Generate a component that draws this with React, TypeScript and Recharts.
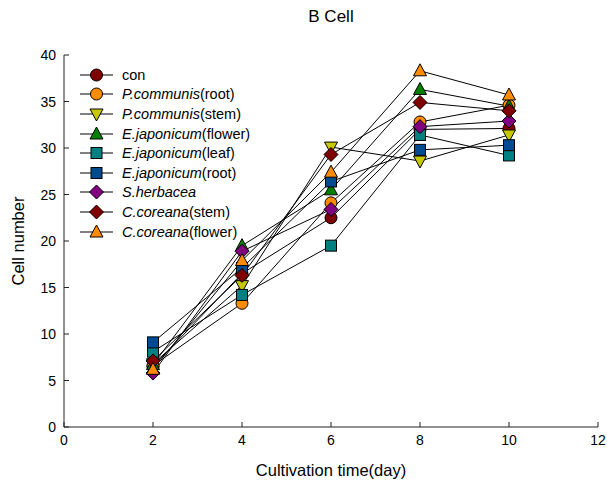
import React from 'react';
import { LineChart, Line, XAxis, YAxis } from 'recharts';

document.body.style.margin = '0';

const FONT = '"Liberation Sans", Arial, sans-serif';

const days = [2, 4, 6, 8, 10];
const xTicks = [0, 2, 4, 6, 8, 10, 12];
const yTicks = [0, 5, 10, 15, 20, 25, 30, 35, 40];

const con = [6.5, 16.5, 22.5, 32.0, 32.1];
const pcRoot = [6.6, 13.3, 24.1, 32.8, 34.6];
const pcStem = [6.8, 15.2, 30.1, 28.6, 31.4];
const ejFlower = [6.7, 19.5, 25.5, 36.3, 34.5];
const ejLeaf = [8.1, 14.2, 19.5, 31.4, 29.2];
const ejRoot = [9.1, 17.1, 26.4, 29.8, 30.3];
const sHerbacea = [5.8, 18.9, 23.4, 32.3, 32.9];
const ccStem = [7.1, 16.3, 29.3, 34.9, 34.0];
const ccFlower = [6.2, 17.9, 27.4, 38.3, 35.7];

type Shape = 'circle' | 'square' | 'triUp' | 'triDown' | 'diamond';

const series: { key: string; italic: string; plain: string; values: number[]; shape: Shape; fill: string }[] = [
  { key: 'con', italic: '', plain: 'con', values: con, shape: 'circle', fill: '#800000' },
  { key: 'pcRoot', italic: 'P.communis', plain: '(root)', values: pcRoot, shape: 'circle', fill: '#FF8C00' },
  { key: 'pcStem', italic: 'P.communis', plain: '(stem)', values: pcStem, shape: 'triDown', fill: '#C8C800' },
  { key: 'ejFlower', italic: 'E.japonicum', plain: '(flower)', values: ejFlower, shape: 'triUp', fill: '#008000' },
  { key: 'ejLeaf', italic: 'E.japonicum', plain: '(leaf)', values: ejLeaf, shape: 'square', fill: '#008080' },
  { key: 'ejRoot', italic: 'E.japonicum', plain: '(root)', values: ejRoot, shape: 'square', fill: '#004A8F' },
  { key: 'sHerbacea', italic: 'S.herbacea', plain: '', values: sHerbacea, shape: 'diamond', fill: '#800080' },
  { key: 'ccStem', italic: 'C.coreana', plain: '(stem)', values: ccStem, shape: 'diamond', fill: '#800000' },
  { key: 'ccFlower', italic: 'C.coreana', plain: '(flower)', values: ccFlower, shape: 'triUp', fill: '#FF8C00' },
];

const data = days.map((d, i) => {
  const row: Record<string, number> = { day: d };
  series.forEach((s) => {
    row[s.key] = s.values[i];
  });
  return row;
});

function Marker({ shape, fill, cx, cy }: { shape: Shape; fill: string; cx: number; cy: number }) {
  const common = { fill, stroke: '#000', strokeWidth: 1 };
  switch (shape) {
    case 'circle':
      return <circle cx={cx} cy={cy} r={6} {...common} />;
    case 'square':
      return <rect x={cx - 5.5} y={cy - 5.5} width={11} height={11} {...common} />;
    case 'triUp':
      return <polygon points={`${cx},${cy - 7} ${cx + 6.5},${cy + 5} ${cx - 6.5},${cy + 5}`} {...common} />;
    case 'triDown':
      return <polygon points={`${cx},${cy + 7} ${cx + 6.5},${cy - 5} ${cx - 6.5},${cy - 5}`} {...common} />;
    default:
      return <polygon points={`${cx},${cy - 7} ${cx + 7},${cy} ${cx},${cy + 7} ${cx - 7},${cy}`} {...common} />;
  }
}

const BottomTick = ({ x, y, payload }: any) => (
  <g>
    <line x1={x} x2={x} y1={y} y2={y - 5} stroke="#222" />
    <text x={x} y={y + 18} textAnchor="middle" fontSize={14} fontFamily={FONT} fill="#000">
      {payload.value}
    </text>
  </g>
);

const TopTick = ({ x, y }: any) => <line x1={x} x2={x} y1={y} y2={y + 5} stroke="#222" />;

const LeftTick = ({ x, y, payload }: any) => (
  <g>
    <line x1={x} x2={x + 5} y1={y} y2={y} stroke="#222" />
    <text x={x - 8} y={y + 5} textAnchor="end" fontSize={14} fontFamily={FONT} fill="#000">
      {payload.value}
    </text>
  </g>
);

const RightTick = ({ x, y }: any) => <line x1={x} x2={x - 5} y1={y} y2={y} stroke="#222" />;

export default function App() {
  return (
    <div style={{ position: 'relative', width: 607, height: 484, background: '#fff', fontFamily: FONT }}>
      <div style={{ position: 'absolute', top: 7, left: 64, width: 534, textAlign: 'center', fontSize: 17 }}>B Cell</div>
      <LineChart width={607} height={484} data={data} margin={{ top: 55, right: 9, bottom: 0, left: 10 }}>
        <XAxis
          dataKey="day"
          type="number"
          domain={[0, 12]}
          ticks={xTicks}
          height={57}
          tickSize={0}
          tickMargin={0}
          tick={<BottomTick />}
          axisLine={{ stroke: '#222' }}
          tickLine={false}
          label={{ value: 'Cultivation time(day)', position: 'insideBottom', offset: 8, fontSize: 16.5, fill: '#000', fontFamily: FONT }}
        />
        <XAxis
          xAxisId="top"
          orientation="top"
          type="number"
          domain={[0, 12]}
          ticks={xTicks}
          height={0}
          tickSize={0}
          tickMargin={0}
          tick={<TopTick />}
          axisLine={{ stroke: '#222' }}
          tickLine={false}
        />
        <YAxis
          type="number"
          domain={[0, 40]}
          ticks={yTicks}
          width={54}
          tickSize={0}
          tickMargin={0}
          tick={<LeftTick />}
          axisLine={{ stroke: '#222' }}
          tickLine={false}
          label={{
            value: 'Cell number',
            angle: -90,
            position: 'insideLeft',
            offset: 8,
            fontSize: 16.5,
            fill: '#000',
            fontFamily: FONT,
            style: { textAnchor: 'middle' },
          }}
        />
        <YAxis
          yAxisId="right"
          orientation="right"
          type="number"
          domain={[0, 40]}
          ticks={yTicks}
          width={0}
          tickSize={0}
          tickMargin={0}
          tick={<RightTick />}
          axisLine={{ stroke: '#222' }}
          tickLine={false}
        />
        {series.map((s) => (
          <Line
            key={s.key}
            dataKey={s.key}
            stroke="#000"
            strokeWidth={1}
            isAnimationActive={false}
            activeDot={false}
            dot={(p: any) => <Marker key={`${s.key}-${p.index}`} shape={s.shape} fill={s.fill} cx={p.cx} cy={p.cy} />}
          />
        ))}
      </LineChart>
      <div style={{ position: 'absolute', left: 80, top: 65, fontSize: 14.5 }}>
        {series.map((s) => (
          <div key={s.key} style={{ display: 'flex', alignItems: 'center', height: 19.6 }}>
            <svg width={36} height={18} style={{ display: 'block' }}>
              <line x1={0} x2={33} y1={9} y2={9} stroke="#000" strokeWidth={1} />
              <Marker shape={s.shape} fill={s.fill} cx={16.5} cy={9} />
            </svg>
            <span style={{ marginLeft: 6, whiteSpace: 'nowrap' }}>
              {s.italic && <i>{s.italic}</i>}
              {s.plain}
            </span>
          </div>
        ))}
      </div>
    </div>
  );
}
